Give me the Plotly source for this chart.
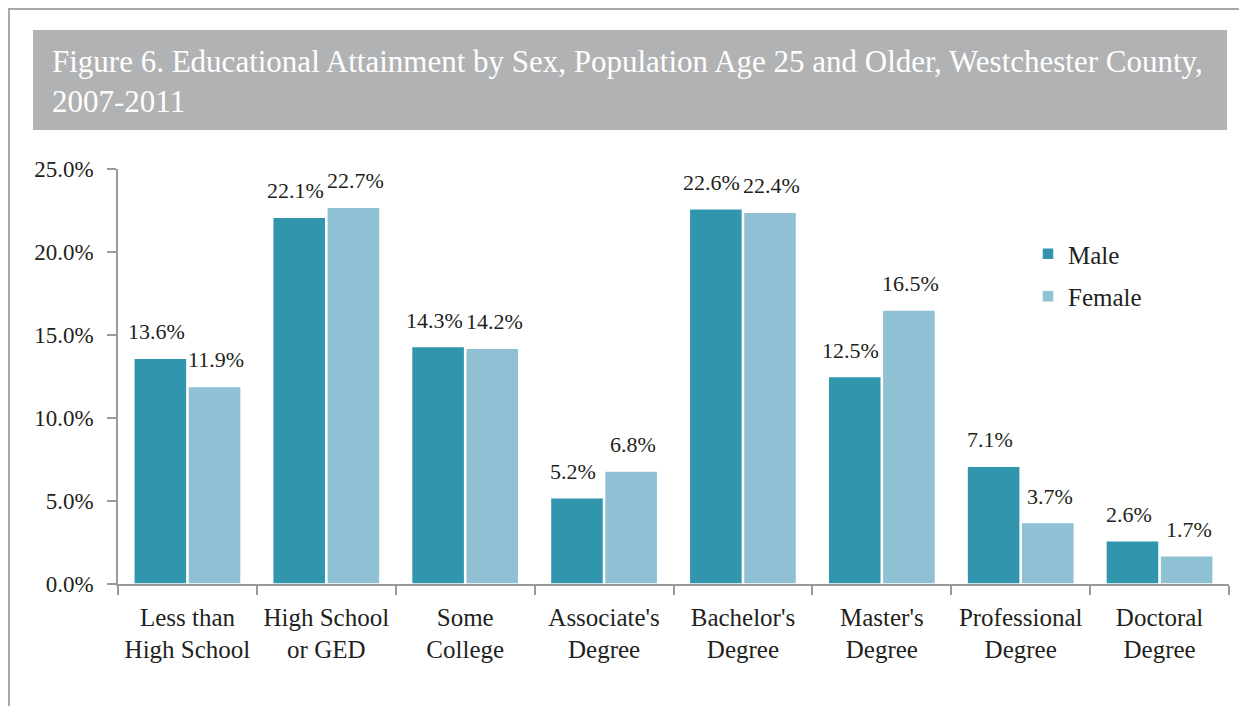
import plotly.graph_objects as go

categories = ["Less than<br>High School", "High School<br>or GED", "Some<br>College",
              "Associate's<br>Degree", "Bachelor's<br>Degree", "Master's<br>Degree",
              "Professional<br>Degree", "Doctoral<br>Degree"]
male = [13.6, 22.1, 14.3, 5.2, 22.6, 12.5, 7.1, 2.6]
female = [11.9, 22.7, 14.2, 6.8, 22.4, 16.5, 3.7, 1.7]
y_ticks = [0, 5, 10, 15, 20, 25]

FONT = "Liberation Serif"
TXT = "#231f20"
AX = "#9a9a9a"

OFF = 8  # page body margin
W, H = 1247 - OFF, 706 - OFF
L, R, T = 118 - OFF, W - (1229 - OFF), 169 - OFF
B = H - (584 - OFF)
pw, ph = W - L - R, H - T - B

def px(x):
    return (x - OFF - L) / pw

def py(y):
    return (H - B - (y - OFF)) / ph

fig = go.Figure()
fig.add_trace(go.Bar(
    name="Male", x=categories, y=male, legendgroup="m",
    marker=dict(color="#3195ae", line=dict(color="white", width=1.5)),
))
fig.add_trace(go.Bar(
    name="Female", x=categories, y=female, legendgroup="f",
    marker=dict(color="#8fc0d4", line=dict(color="white", width=1.5)),
))

annotations = []
for cat, m, f in zip(categories, male, female):
    for val, xs in ((m, -31), (f, 29)):
        annotations.append(dict(
            x=cat, y=val, xref="x", yref="y", text=f"{val:.1f}%", showarrow=False,
            xanchor="center", yanchor="bottom", xshift=xs, yshift=12,
            font=dict(family=FONT, size=22, color=TXT),
        ))

annotations.append(dict(
    xref="paper", yref="paper", x=px(50), y=py(82), xanchor="left", yanchor="middle",
    text="Figure 6. Educational Attainment by Sex, Population Age 25 and Older, Westchester County,<br>2007-2011",
    showarrow=False, align="left",
    font=dict(family=FONT, size=31, color="white"),
))

shapes = [
    dict(type="rect", xref="paper", yref="paper", x0=px(33), x1=px(1227), y0=py(130), y1=py(30),
         fillcolor="#b1b2b4", line=dict(width=0), layer="below"),
    dict(type="line", xref="paper", yref="paper", x0=px(8), x1=px(1260), y0=py(9), y1=py(9),
         line=dict(color="#a7a8ab", width=2)),
    dict(type="line", xref="paper", yref="paper", x0=px(9), x1=px(9), y0=py(8), y1=py(720),
         line=dict(color="#a7a8ab", width=2)),
]

fig.update_layout(
    width=W, height=H,
    margin=dict(l=L, r=R, t=T, b=B),
    paper_bgcolor="white", plot_bgcolor="white",
    barmode="group", bargap=0.22, bargroupgap=0.02,
    font=dict(family=FONT, color=TXT, size=20),
    showlegend=True,
    legend=dict(x=px(1028), y=py(231), xanchor="left", yanchor="top",
                font=dict(family=FONT, size=25, color=TXT), tracegroupgap=7,
                bgcolor="rgba(0,0,0,0)"),
    shapes=shapes,
    annotations=annotations,
    xaxis=dict(
        showline=True, linecolor=AX, linewidth=1.5,
        ticks="outside", tickson="boundaries", ticklen=9, tickcolor=AX, tickwidth=1.5,
        tickfont=dict(family=FONT, size=25, color=TXT), ticklabelstandoff=10,
    ),
    yaxis=dict(
        range=[0, 25], tickvals=y_ticks, ticktext=[f"{v:.1f}%" for v in y_ticks],
        showline=True, linecolor=AX, linewidth=1.5, showgrid=False, zeroline=False,
        ticks="outside", ticklen=9, tickcolor=AX, tickwidth=1.5,
        tickfont=dict(family=FONT, size=23, color=TXT), ticklabelstandoff=9,
    ),
)

fig.write_html("out.html")
